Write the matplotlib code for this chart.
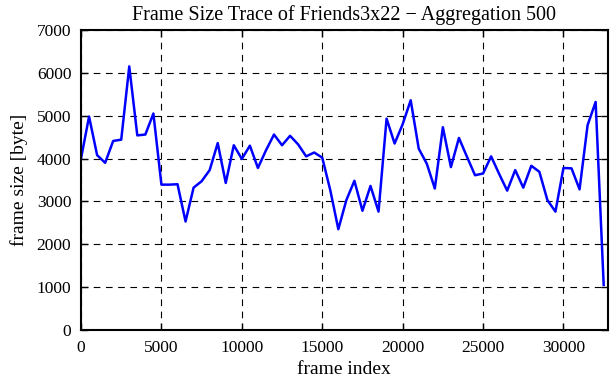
import numpy as np
import matplotlib
matplotlib.use('Agg')
import matplotlib.pyplot as plt

# aggregated frame sizes, one value every 500 frames
frame_step = 500
frame_size = [4000, 4980, 4080, 3900, 4410, 4440, 6150, 4540, 4560, 5050,
              3390, 3390, 3400, 2530, 3320, 3470, 3730, 4360, 3430, 4310,
              3990, 4300, 3780, 4190, 4560, 4310, 4530, 4330, 4050, 4140,
              4020, 3260, 2350, 3030, 3480, 2780, 3360, 2760, 4930, 4350,
              4800, 5360, 4230, 3880, 3300, 4730, 3800, 4480, 4040, 3610,
              3650, 4050, 3640, 3250, 3730, 3320, 3830, 3690, 3030, 2760,
              3780, 3770, 3280, 4780, 5320, 1050]
frame_index = np.arange(len(frame_size)) * frame_step

x_ticks = [0, 5000, 10000, 15000, 20000, 25000, 30000]
y_ticks = [0, 1000, 2000, 3000, 4000, 5000, 6000, 7000]

plt.rcParams['font.family'] = ['Liberation Serif', 'DejaVu Serif']
plt.rcParams['font.size'] = 14

fig = plt.figure(figsize=(6.11, 3.80), dpi=100)
ax = fig.add_axes([0.1326, 0.132, 0.862, 0.789])

ax.plot(frame_index, frame_size, color='#0000ff', linewidth=1.8)

ax.set_xlim(0, 32750)
ax.set_ylim(0, 7000)
ax.set_xticks(x_ticks)
ax.set_yticks(y_ticks)
ax.grid(True, color='black', linestyle=(0, (6, 5)), linewidth=0.8)
ax.tick_params(direction='in', length=5, width=1, top=True, right=True, pad=7,
               labelsize=12.5)
for s in ax.spines.values():
    s.set_linewidth(1.5)

ax.set_title('Frame Size Trace of Friends3x22 \u2212 Aggregation 500',
             fontsize=14.5, pad=7)
ax.set_xlabel('frame index', labelpad=4)
ax.set_ylabel('frame size [byte]', labelpad=6)

fig.savefig('out.png', dpi=100)
